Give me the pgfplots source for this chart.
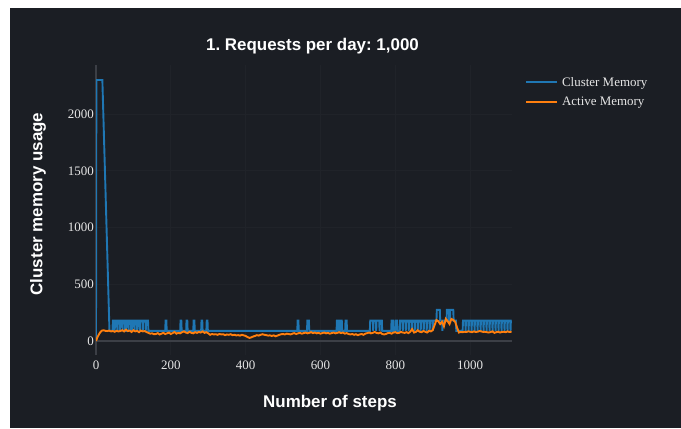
\documentclass[border=0pt]{standalone}
\usepackage{fontspec}
\setmainfont{Liberation Serif}
\newfontfamily\plotsans{Liberation Sans}
\usepackage{pgfplots}
\pgfplotsset{compat=1.18}
\definecolor{bgdark}{HTML}{1B1E24}
\definecolor{gridc}{HTML}{202329}
\definecolor{zeroc}{HTML}{3C3F46}
\definecolor{cblue}{HTML}{1F77B4}
\definecolor{corange}{HTML}{FF7F0E}
\definecolor{ticktxt}{HTML}{E6E6E6}
\begin{document}
\frenchspacing
\begin{tikzpicture}[x=1bp,y=1bp]
\useasboundingbox (0,0) rectangle (681,428);
\fill[white] (0,0) rectangle (681,428);
\fill[bgdark] (10,0) rectangle (681,420);
\node[text=white, font=\plotsans\bfseries\fontsize{17}{17}\selectfont] at (312.5,382) {1. Requests per day: 1,000};
\node[text=white, rotate=90, font=\plotsans\bfseries\fontsize{17}{17}\selectfont] at (38,224) {Cluster memory usage};
\node[text=white, font=\plotsans\bfseries\fontsize{17}{17}\selectfont] at (330,25) {Number of steps};
\begin{axis}[
  at={(96bp,73bp)}, anchor=south west, scale only axis,
  width=416bp, height=290bp,
  xmin=0, xmax=1112, ymin=-123, ymax=2432,
  axis line style={draw=none},
  major tick length=0pt,
  xtick={0,200,400,600,800,1000},
  ytick={0,500,1000,1500,2000},
  grid=major, grid style={gridc, line width=0.8bp},
  extra x ticks={0}, extra x tick labels={},
  extra y ticks={0}, extra y tick labels={},
  extra tick style={grid style={zeroc, line width=1.6bp}},
  /pgf/number format/1000 sep={},
  /pgf/number format/assume math mode=true,
  tick label style={font=\fontsize{13}{13}\selectfont, text=ticktxt},
  yticklabel style={inner sep=1bp, xshift=-1bp},
  xticklabel style={inner sep=1bp, yshift=-5bp},
  legend style={draw=none, fill=none, at={(1,1)}, anchor=north west, xshift=12bp, yshift=-9bp,
    font=\fontsize{13}{13}\selectfont, text=ticktxt, row sep=5bp, column sep=2bp, inner sep=1bp},
  legend cell align=left,
  legend image code/.code={\draw[#1] (0bp,0bp) -- (31bp,0bp);},
]
\addplot[cblue, line width=1.9bp] coordinates {
(0,0)(1,2300)(17,2300)(36,90)(44,90)
(45,180)(49,180)(50,90)(51,180)(56,180)(57,90)(58,180)(63,180)(64,90)(65,180)(70,180)(71,90)(72,180)(77,180)(78,90)(80,90)(81,180)(86,180)(87,90)(88,180)(93,180)(94,90)(96,90)(97,180)(102,180)(103,90)(104,180)(109,180)(110,90)(111,180)(116,180)(117,90)(118,180)(124,180)(125,90)(126,180)(132,180)(133,90)(134,180)(139,180)(140,90)
(185,90)(186,180)(188,180)(189,90)(225,90)(226,180)(228,180)(229,90)(241,90)(242,180)(244,180)(245,90)(260,90)(261,180)(263,180)(264,90)(281,90)(282,180)(284,180)(285,90)(295,90)(296,180)(298,180)(299,90)
(538,90)(539,180)(541,180)(542,90)(564,90)(565,180)(569,180)(570,90)
(643,90)(644,180)(648,180)(649,90)(652,90)(653,180)(657,180)(658,90)(666,90)(667,180)(670,180)(671,90)
(732,90)(733,180)(740,180)(741,90)(742,180)(748,180)(749,90)(750,180)(757,180)(758,90)(759,180)(764,180)(765,90)
(789,90)(790,180)(794,180)(795,90)(800,90)(801,180)(805,180)(806,90)
(812,90)(813,180)(819,180)(820,90)(821,180)(827,180)(828,90)(829,180)(835,180)(836,90)(837,180)(843,180)(844,90)(845,180)(851,180)(852,90)(853,180)(859,180)(860,90)(861,180)(867,180)(868,90)(869,180)(875,180)(876,90)(877,180)(883,180)(884,90)(885,180)(891,180)(892,90)(893,180)(899,180)(900,90)(901,180)
(910,180)(911,275)(919,275)(920,180)(925,180)(926,90)(927,180)(937,180)(938,275)(943,275)(944,180)(946,180)(947,275)(955,275)(956,180)(962,180)(963,90)(975,90)
(980,90)(981,180)(987,180)(988,90)(989,180)(995,180)(996,90)(997,180)(1003,180)(1004,90)(1005,180)(1011,180)(1012,90)(1013,180)(1019,180)(1020,90)(1021,180)(1027,180)(1028,90)(1029,180)(1035,180)(1036,90)(1037,180)(1043,180)(1044,90)(1045,180)(1051,180)(1052,90)(1053,180)(1059,180)(1060,90)(1061,180)(1067,180)(1068,90)(1069,180)(1075,180)(1076,90)(1077,180)(1083,180)(1084,90)(1085,180)(1091,180)(1092,90)(1093,180)(1099,180)(1100,90)(1101,180)(1107,180)(1108,90)(1109,180)(1111,180)
};
\addlegendentry{Cluster Memory}
\addplot[corange, line width=1.9bp] coordinates {
(0,0)(4,35)(8,60)(12,80)(16,92)(20,95)(25,90)(30,88)(35,92)(40,85)(45,88)(50,82)(55,90)(60,85)(65,88)(70,95)(75,85)(80,100)(85,88)(90,92)(95,80)(100,95)(105,85)(110,90)(115,78)(120,92)(125,85)(130,88)(135,80)(140,72)(145,65)(150,68)(155,60)(160,62)(165,70)(170,58)(175,65)(180,72)(185,62)(190,68)(195,75)(200,62)(205,70)(210,80)(215,65)(220,72)(225,68)(230,78)(235,85)(240,75)(245,70)(250,82)(255,72)(260,68)(265,78)(270,72)(275,80)(280,75)(285,85)(290,72)(295,78)(300,68)(305,55)(310,62)(315,58)(320,60)(325,55)(330,62)(335,58)(340,60)(345,52)(350,58)(355,55)(360,60)(365,52)(370,55)(375,50)(380,52)(385,48)(390,55)(395,50)(400,45)(405,35)(410,28)(415,32)(420,40)(425,45)(430,52)(435,48)(440,55)(445,60)(450,55)(455,52)(460,48)(465,50)(470,45)(475,50)(480,42)(485,48)(490,55)(495,60)(500,62)(505,58)(510,65)(515,62)(520,58)(525,65)(530,70)(535,62)(540,68)(545,72)(550,65)(555,70)(560,75)(565,68)(570,72)(575,78)(580,70)(585,75)(590,68)(595,72)(600,65)(605,70)(610,75)(615,68)(620,72)(625,65)(630,70)(635,75)(640,68)(645,72)(650,78)(655,70)(660,75)(665,65)(670,70)(675,62)(680,58)(685,62)(690,55)(695,60)(700,52)(705,58)(710,62)(715,55)(720,65)(725,70)(730,75)(735,68)(740,72)(745,80)(750,72)(755,68)(760,75)(765,62)(770,58)(775,62)(780,70)(785,72)(790,65)(795,75)(800,78)(805,70)(810,72)(815,80)(820,75)(825,72)(830,78)(835,70)(840,82)(845,105)(850,75)(855,80)(860,95)(865,82)(870,78)(875,88)(880,82)(885,75)(890,90)(895,85)(900,95)(905,140)(910,185)(915,175)(920,150)(925,170)(930,130)(935,195)(940,175)(945,150)(950,195)(955,185)(960,170)(965,120)(970,75)(975,80)(980,78)(985,82)(990,80)(995,85)(1000,82)(1005,78)(1010,85)(1015,80)(1020,82)(1025,88)(1030,85)(1035,80)(1040,82)(1045,78)(1050,75)(1055,80)(1060,85)(1065,72)(1070,78)(1075,82)(1080,75)(1085,80)(1090,82)(1095,78)(1100,85)(1105,80)(1111,82)
};
\addlegendentry{Active Memory}
\end{axis}
\end{tikzpicture}
\end{document}
